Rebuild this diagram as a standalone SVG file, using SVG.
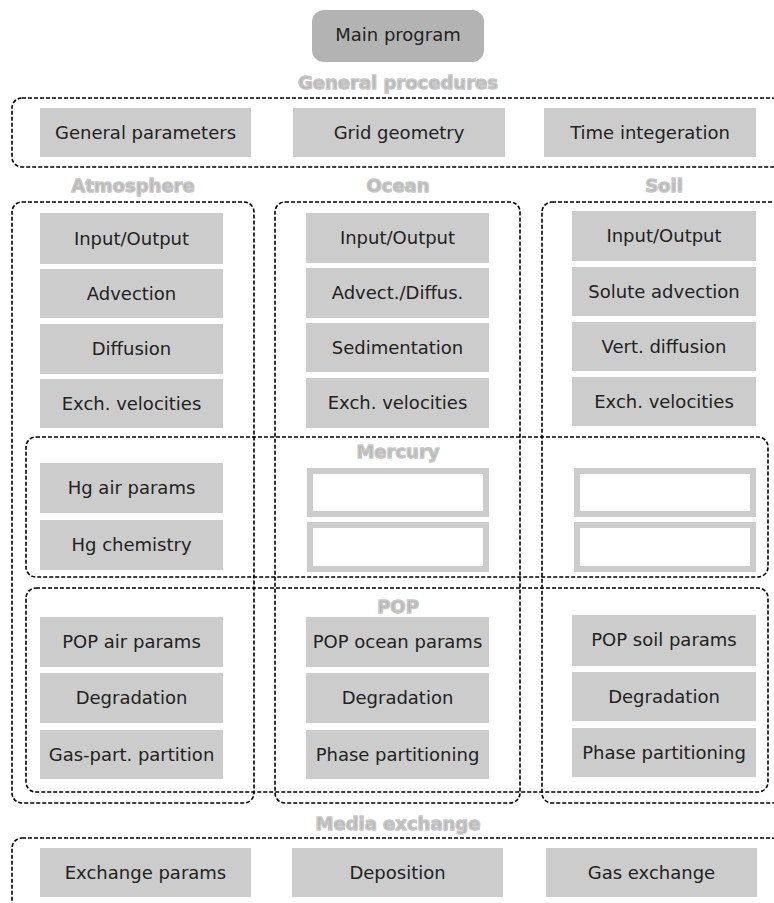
<svg xmlns="http://www.w3.org/2000/svg" width="774" height="903" viewBox="0 0 774 903">
<style>
.b{fill:#cccccc;}
.t{font-family:"DejaVu Sans",sans-serif;font-size:18px;fill:#222222;text-anchor:middle;}
.lbl{font-family:"DejaVu Sans",sans-serif;font-size:18px;font-weight:bold;fill:#b8b8b8;stroke:#c8c8c8;stroke-width:1.4;stroke-linejoin:round;text-anchor:middle;}
.d{fill:none;stroke:#000000;stroke-width:1.6;stroke-dasharray:4,2;}
.e{fill:none;stroke:#cccccc;stroke-width:6;}
</style>
<rect width="774" height="903" fill="#ffffff"/>
<g id="groups">
<rect class="d" x="12" y="98" width="770" height="69" rx="10"/>
<rect class="d" x="12" y="202" width="242" height="601" rx="10"/>
<rect class="d" x="275" y="202" width="245" height="601" rx="10"/>
<rect class="d" x="542" y="202" width="240" height="601" rx="10"/>
<rect class="d" x="26" y="437" width="742" height="140" rx="10"/>
<rect class="d" x="26" y="588" width="742" height="204" rx="10"/>
<rect class="d" x="12" y="838" width="770" height="80" rx="10"/>
</g>
<g id="labels">
<text class="lbl" x="398" y="89">General procedures</text>
<text class="lbl" x="133" y="192">Atmosphere</text>
<text class="lbl" x="398" y="192">Ocean</text>
<text class="lbl" x="664" y="192">Soil</text>
<text class="lbl" x="398" y="458">Mercury</text>
<text class="lbl" x="398" y="613">POP</text>
<text class="lbl" x="398" y="830">Media exchange</text>
</g>
<g id="main"><rect x="312" y="10" width="172" height="52" rx="12" fill="#b3b3b3"/><text class="t" x="398" y="41">Main program</text></g>
<g id="gen-params"><rect class="b" x="40" y="108" width="211" height="49"/><text class="t" x="145.5" y="139">General parameters</text></g>
<g id="grid"><rect class="b" x="293" y="108" width="212" height="49"/><text class="t" x="399" y="139">Grid geometry</text></g>
<g id="time"><rect class="b" x="544" y="108" width="212" height="49"/><text class="t" x="650" y="139">Time integeration</text></g>

<g id="atm-io"><rect class="b" x="40" y="213" width="183" height="51"/><text class="t" x="131.5" y="245">Input/Output</text></g>
<g id="atm-adv"><rect class="b" x="40" y="269" width="183" height="49"/><text class="t" x="131.5" y="300">Advection</text></g>
<g id="atm-diff"><rect class="b" x="40" y="324" width="183" height="50"/><text class="t" x="131.5" y="355">Diffusion</text></g>
<g id="atm-exch"><rect class="b" x="40" y="379" width="183" height="49"/><text class="t" x="131.5" y="410">Exch. velocities</text></g>

<g id="oc-io"><rect class="b" x="306" y="213" width="183" height="50"/><text class="t" x="397.5" y="244">Input/Output</text></g>
<g id="oc-adv"><rect class="b" x="306" y="268" width="183" height="50"/><text class="t" x="397.5" y="299">Advect./Diffus.</text></g>
<g id="oc-sed"><rect class="b" x="306" y="323" width="183" height="49"/><text class="t" x="397.5" y="354">Sedimentation</text></g>
<g id="oc-exch"><rect class="b" x="306" y="378" width="183" height="50"/><text class="t" x="397.5" y="409">Exch. velocities</text></g>

<g id="soil-io"><rect class="b" x="572" y="211" width="184" height="50"/><text class="t" x="664" y="242">Input/Output</text></g>
<g id="soil-adv"><rect class="b" x="572" y="267" width="184" height="49"/><text class="t" x="664" y="298">Solute advection</text></g>
<g id="soil-diff"><rect class="b" x="572" y="322" width="184" height="49"/><text class="t" x="664" y="353">Vert. diffusion</text></g>
<g id="soil-exch"><rect class="b" x="572" y="377" width="184" height="49"/><text class="t" x="664" y="408">Exch. velocities</text></g>

<g id="hg-air"><rect class="b" x="40" y="463" width="183" height="50"/><text class="t" x="131.5" y="494">Hg air params</text></g>
<g id="hg-chem"><rect class="b" x="40" y="520" width="183" height="50"/><text class="t" x="131.5" y="551">Hg chemistry</text></g>
<g id="hg-oc1"><rect class="e" x="310" y="471" width="176" height="43"/></g>
<g id="hg-oc2"><rect class="e" x="310" y="525" width="176" height="44"/></g>
<g id="hg-soil1"><rect class="e" x="577" y="471" width="176" height="43"/></g>
<g id="hg-soil2"><rect class="e" x="577" y="525" width="176" height="44"/></g>

<g id="pop-air"><rect class="b" x="40" y="617" width="183" height="50"/><text class="t" x="131.5" y="648">POP air params</text></g>
<g id="pop-air-deg"><rect class="b" x="40" y="673" width="183" height="50"/><text class="t" x="131.5" y="704">Degradation</text></g>
<g id="pop-air-part"><rect class="b" x="40" y="730" width="183" height="49"/><text class="t" x="131.5" y="761">Gas-part. partition</text></g>
<g id="pop-oc"><rect class="b" x="306" y="617" width="183" height="50"/><text class="t" x="397.5" y="648">POP ocean params</text></g>
<g id="pop-oc-deg"><rect class="b" x="306" y="673" width="183" height="50"/><text class="t" x="397.5" y="704">Degradation</text></g>
<g id="pop-oc-part"><rect class="b" x="306" y="730" width="183" height="49"/><text class="t" x="397.5" y="761">Phase partitioning</text></g>
<g id="pop-soil"><rect class="b" x="572" y="615" width="184" height="51"/><text class="t" x="664" y="646">POP soil params</text></g>
<g id="pop-soil-deg"><rect class="b" x="572" y="672" width="184" height="49"/><text class="t" x="664" y="703">Degradation</text></g>
<g id="pop-soil-part"><rect class="b" x="572" y="728" width="184" height="49"/><text class="t" x="664" y="759">Phase partitioning</text></g>

<g id="exch-params"><rect class="b" x="40" y="848" width="211" height="49"/><text class="t" x="145.5" y="879">Exchange params</text></g>
<g id="deposition"><rect class="b" x="292" y="848" width="211" height="49"/><text class="t" x="397.5" y="879">Deposition</text></g>
<g id="gas-exch"><rect class="b" x="546" y="848" width="211" height="49"/><text class="t" x="651.5" y="879">Gas exchange</text></g>
</svg>
